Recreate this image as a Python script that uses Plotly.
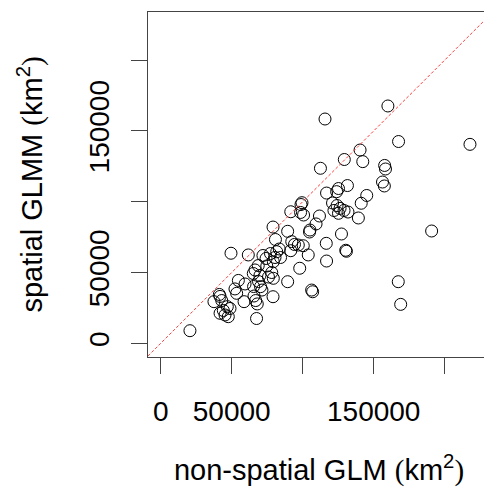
import plotly.graph_objects as go

# non-spatial GLM estimates (km^2)
glm = [160000, 115700, 167500, 217800, 140400, 129300, 142300, 157700, 158300, 112500,
       131500, 156200, 157500, 125200, 123900, 116800, 145100, 141200, 121000, 124200,
       126300, 122000, 129100, 131900, 125200, 139200, 99500, 98800, 98500, 100600,
       91600, 111800, 109400, 105100, 104800, 79100, 89400, 127300, 116600, 80800,
       92300, 94200, 96900, 100400, 83500, 81700, 130300, 130800, 91600, 49500,
       61700, 103900, 72000, 77300, 80500, 74200, 84400, 116800, 79300, 68700,
       74700, 66400, 97900, 78200, 65200, 69900, 79300, 75900, 54700, 59400,
       89400, 167300, 52300, 53500, 70300, 71300, 106300, 107000, 79100, 65700,
       66900, 68000, 41800, 43000, 41300, 37500, 58700, 46900, 48800, 44100,
       41800, 47600, 45300, 67500, 20600, 169000, 190800, 65400, 68900]

# spatial GLMM estimates (km^2)
glmm = [167600, 158400, 142500, 140500, 136500, 129800, 128300, 125600, 123100, 123600,
        111400, 113900, 111100, 109300, 107100, 106100, 104400, 98900, 99100, 97300,
        95300, 93800, 93800, 92700, 91800, 88500, 99300, 98000, 92400, 90600,
        92900, 89900, 84300, 80000, 78600, 82100, 79100, 77200, 70600, 73300,
        71800, 69800, 69400, 68900, 66600, 64700, 65700, 65000, 65400, 63600,
        62400, 62400, 62000, 63400, 60600, 59900, 60600, 58100, 57600, 54900,
        54600, 51800, 53000, 50000, 49300, 47900, 45900, 46800, 44400, 41900,
        43500, 43500, 38400, 35300, 40000, 37600, 37600, 36400, 32900, 33400,
        30200, 27800, 33100, 30200, 34500, 29400, 29400, 25900, 24600, 23200,
        21200, 18800, 20000, 17500, 8900, 27500, 79300, 40100, 43600]

tick_vals = [0, 50000, 100000, 150000, 200000]
tick_text = ["0", "50000", " ", "150000", " "]

x_range = [-8944, 231900]
y_range = [-9675, 233970]

fig = go.Figure()

fig.add_trace(go.Scatter(x=glm, y=glmm, mode="markers",
                         marker=dict(symbol="circle-open", size=12,
                                     color="black", line=dict(width=1, color="black")),
                         showlegend=False))

# 1:1 reference line across the visible range
lo = max(x_range[0], y_range[0])
hi = min(x_range[1], y_range[1])
fig.add_shape(type="line", xref="x", yref="y", x0=lo, y0=lo, x1=hi, y1=hi,
              line=dict(color="#ff4040", width=1, dash="3px,2px"), layer="above")

tick_font = dict(family="Liberation Sans, Arial, sans-serif", size=28, color="black")
title_font = dict(family="Liberation Sans, Arial, sans-serif", size=29, color="black")
par = '<span style="font-family:Liberation Serif">'

# page body has an 8px margin, so the figure is offset by 8px
fig.update_layout(
    width=484, height=486,
    margin=dict(l=140, r=2, t=4, b=137),
    paper_bgcolor="white", plot_bgcolor="white",
    font=tick_font,
    xaxis=dict(range=x_range, tickvals=tick_vals, ticktext=tick_text,
               ticks="outside", ticklen=16, tickcolor="#444", tickwidth=1,
               tickfont=tick_font, automargin=False,
               showgrid=False, zeroline=False, showline=True, mirror=True,
               linecolor="#444", linewidth=1, ticklabelstandoff=13,
               title=dict(text="non-spatial GLM " + par + "(</span>km<sup>2</sup>" + par + ")</span>",
                          standoff=34, font=title_font)),
    yaxis=dict(range=y_range, tickvals=tick_vals, ticktext=tick_text,
               ticks="outside", ticklen=16, tickcolor="#444", tickwidth=1,
               tickfont=tick_font, automargin=False,
               tickangle=-90, ticklabelstandoff=11,
               showgrid=False, zeroline=False, showline=True, mirror=True,
               linecolor="#444", linewidth=1,
               title=dict(text="spatial GLMM " + par + "(</span>km<sup>2</sup>" + par + ")</span>",
                          standoff=32, font=title_font)),
)

fig.write_html("out.html")
